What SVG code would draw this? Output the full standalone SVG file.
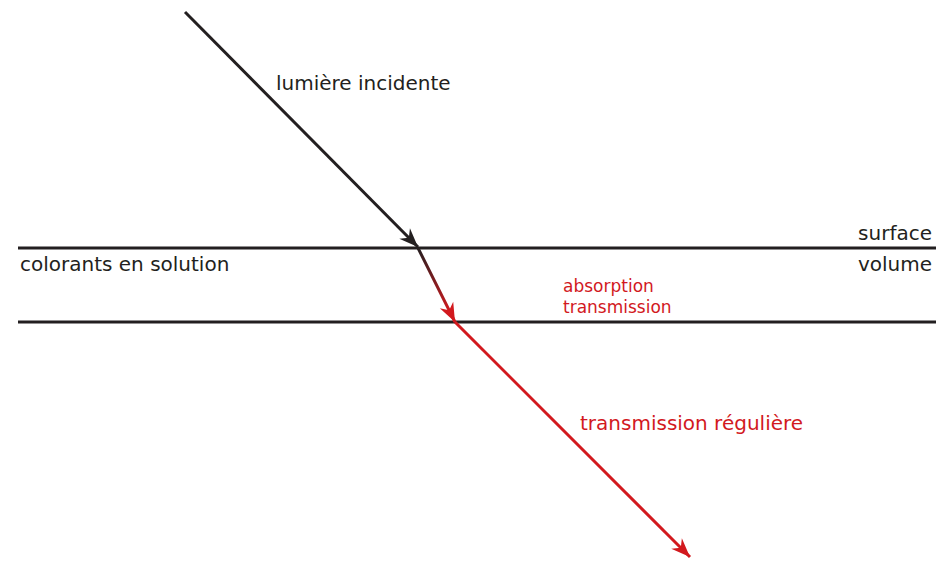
<svg xmlns="http://www.w3.org/2000/svg" width="951" height="562" viewBox="0 0 951 562">
<style>
.t{font-family:"DejaVu Sans","Verdana",sans-serif;}
.k{fill:#231f20;}
.r{fill:#d2191e;}
.ln{stroke:#231f20;stroke-width:3;fill:none;}
</style>
<defs>
<marker id="ak" markerUnits="userSpaceOnUse" viewBox="-20 -8 22 16" refX="0" refY="0" markerWidth="22" markerHeight="16" orient="auto">
<path d="M0,0 L-19,-7.5 L-13,0 L-19,7.5 Z" fill="#231f20"/>
</marker>
<marker id="ar" markerUnits="userSpaceOnUse" viewBox="-20 -8 22 16" refX="0" refY="0" markerWidth="22" markerHeight="16" orient="auto">
<path d="M0,0 L-19,-7.5 L-13,0 L-19,7.5 Z" fill="#d2191e"/>
</marker>
<linearGradient id="g" gradientUnits="userSpaceOnUse" x1="418" y1="248" x2="450" y2="312">
<stop offset="0" stop-color="#231f20"/>
<stop offset="1" stop-color="#d2191e"/>
</linearGradient>
</defs>
<g id="interfaces">
<line class="ln" x1="18" y1="248" x2="936" y2="248"/>
<line class="ln" x1="18" y1="322" x2="936" y2="322"/>
</g>
<g id="connectors">
<line x1="185" y1="12" x2="418" y2="247" stroke="#231f20" stroke-width="3" marker-end="url(#ak)"/>
<line x1="418" y1="248" x2="455" y2="322" stroke="url(#g)" stroke-width="3" marker-end="url(#ar)"/>
<line x1="455" y1="322" x2="690" y2="557" stroke="#d2191e" stroke-width="3" marker-end="url(#ar)"/>
</g>
<g id="labels">
<text class="t k" x="276" y="90" font-size="20">lumière incidente</text>
<text class="t k" x="932" y="240" font-size="20" text-anchor="end">surface</text>
<text class="t k" x="932" y="271" font-size="20" text-anchor="end">volume</text>
<text class="t k" x="20" y="271" font-size="20">colorants en solution</text>
<text class="t r" x="563" y="292" font-size="17">absorption</text>
<text class="t r" x="563" y="313" font-size="17">transmission</text>
<text class="t r" x="580" y="430" font-size="20">transmission régulière</text>
</g>
</svg>
